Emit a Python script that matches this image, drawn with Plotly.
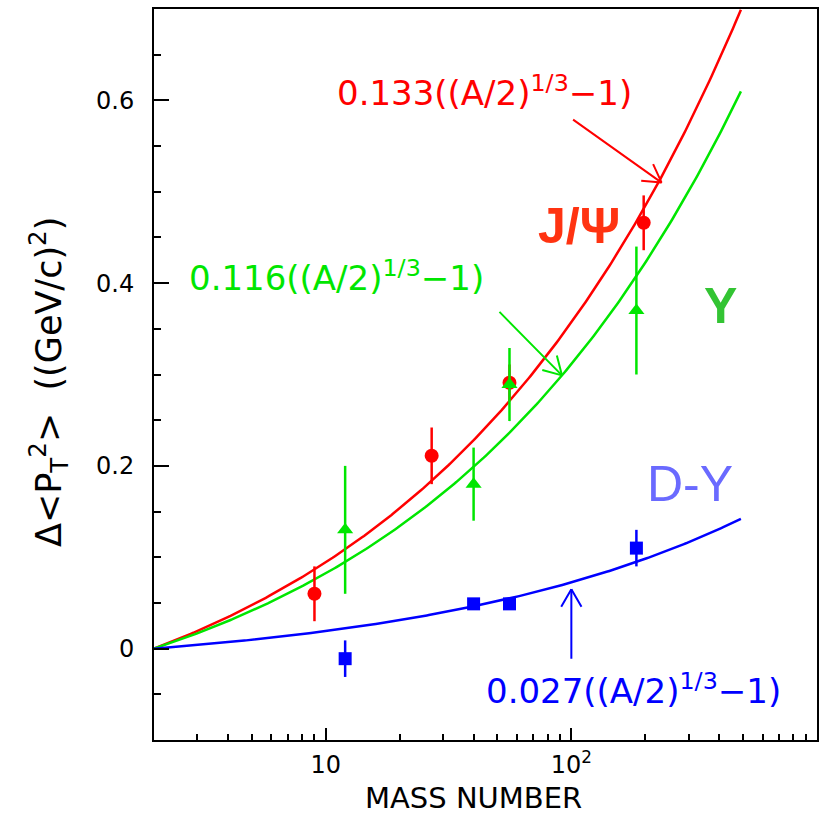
import numpy as np
import plotly.graph_objects as go

# Nuclear mass numbers of the targets
A_jpsi = [9, 27, 56, 197]
A_ups = [12, 40, 56, 184]
A_dy = [12, 40, 56, 184]

# Broadening of <pT^2> relative to deuterium, (GeV/c)^2
dpt_jpsi = [0.060, 0.211, 0.291, 0.466]
err_jpsi = [0.030, 0.031, 0.020, 0.030]
dpt_ups = [0.130, 0.180, 0.289, 0.370]
err_ups = [0.070, 0.040, 0.040, 0.070]
dpt_dy = [-0.011, 0.049, 0.049, 0.110]
err_dy = [0.020, 0.005, 0.005, 0.020]

# Fit coefficients of  c((A/2)^(1/3) - 1)
c_jpsi = 0.133
c_ups = 0.116
c_dy = 0.027

RED = "#ff0000"
GREEN = "#00e600"
BLUE = "#0000ff"
FONT = "DejaVu Sans"

A_fit = np.logspace(np.log10(2), np.log10(490), 300)


def fit(c):
    return c * ((A_fit / 2.0) ** (1.0 / 3.0) - 1.0)


fig = go.Figure()

for c, col in [(c_jpsi, RED), (c_ups, GREEN), (c_dy, BLUE)]:
    fig.add_trace(go.Scatter(x=A_fit, y=fit(c), mode="lines",
                             line=dict(color=col, width=2.5),
                             showlegend=False, hoverinfo="skip"))

for xs, ys, es, col, sym, size in [
    (A_jpsi, dpt_jpsi, err_jpsi, RED, "circle", 14),
    (A_ups, dpt_ups, err_ups, GREEN, "triangle-up", 14),
    (A_dy, dpt_dy, err_dy, BLUE, "square", 13),
]:
    fig.add_trace(go.Scatter(
        x=xs, y=ys, mode="markers",
        marker=dict(symbol=sym, size=size, color=col, line=dict(width=0)),
        error_y=dict(type="data", array=es, visible=True, color=col,
                     thickness=2.5, width=0),
        showlegend=False))

annotations = []


def arrow(a_tip, y_tip, tail_dx, tail_dy, col):
    """Straight arrow with an open V head; tail offset in pixels."""
    xt = np.log10(a_tip)
    ang = np.arctan2(tail_dy, tail_dx)
    annotations.append(dict(x=xt, y=y_tip, xref="x", yref="y", text="",
                            showarrow=True, arrowhead=0, arrowwidth=2,
                            arrowcolor=col, ax=tail_dx, ay=tail_dy,
                            axref="pixel", ayref="pixel"))
    for s in (-1, 1):
        a = ang + s * np.radians(30)
        annotations.append(dict(x=xt, y=y_tip, xref="x", yref="y", text="",
                                showarrow=True, arrowhead=0, arrowwidth=2,
                                arrowcolor=col, ax=22 * np.cos(a),
                                ay=22 * np.sin(a)))


def label(a, y, text, col, size, family=FONT, weight="normal"):
    annotations.append(dict(x=np.log10(a), y=y, xref="x", yref="y",
                            text=text, showarrow=False,
                            xanchor="center", yanchor="middle",
                            font=dict(family=family, size=size, color=col,
                                      weight=weight)))


fit_txt = "{:.3f}((A/2)<sup>1/3</sup>\u22121)"
label(44.4, 0.610, fit_txt.format(c_jpsi), RED, 34)
label(11.1, 0.408, fit_txt.format(c_ups), GREEN, 34)
label(179, -0.044, fit_txt.format(c_dy), BLUE, 34)

arrow(233, 0.510, -90, -64, RED)
arrow(91.6, 0.299, -64, -65, GREEN)
arrow(100, 0.065, 0, 71, BLUE)

label(107, 0.463, "J/\u03a8", "#ff3311", 50, "Liberation Sans", "bold")
label(406, 0.3745, "\u03a5", "#33c433", 50, "Liberation Sans", "bold")
label(305, 0.18, "D-Y", "#6a6aff", 50, "Liberation Sans")

# Axis titles
annotations.append(dict(
    x=-0.158, y=0.49, xref="paper", yref="paper", showarrow=False,
    text="\u0394&lt;P<sub>T</sub><sup>2</sup>&gt;  ((GeV/c)<sup>2</sup>)",
    textangle=-90, xanchor="center", yanchor="middle",
    font=dict(family=FONT, size=35, color="black")))
annotations.append(dict(
    x=0.482, y=-0.0793, xref="paper", yref="paper", showarrow=False,
    text="MASS NUMBER", xanchor="center", yanchor="middle",
    font=dict(family=FONT, size=29, color="black")))

x_minor = [3, 4, 5, 6, 7, 8, 9, 20, 30, 40, 50, 60, 70, 80, 90,
           200, 300, 400, 500, 600, 700, 800, 900]
y_minor = [-0.05, 0.05, 0.1, 0.15, 0.25, 0.3, 0.35, 0.45, 0.5, 0.55, 0.65]

fig.update_layout(
    width=821, height=817,
    margin=dict(l=154, r=2, t=9, b=77),
    paper_bgcolor="white", plot_bgcolor="white",
    annotations=annotations,
    xaxis=dict(
        type="log", range=[np.log10(2), 3],
        tickmode="array", tickvals=[10, 100],
        ticktext=["10", "10<sup>2</sup>"],
        ticks="inside", ticklen=12, tickwidth=2, tickcolor="black",
        minor=dict(tickmode="array", tickvals=x_minor, ticks="inside",
                   ticklen=6, tickwidth=2, tickcolor="black", showgrid=False),
        showline=True, linewidth=2, linecolor="black", mirror=True,
        showgrid=False, zeroline=False, ticklabelstandoff=2,
        tickfont=dict(family=FONT, size=24, color="black"),
    ),
    yaxis=dict(
        range=[-0.1, 0.7],
        tickmode="array", tickvals=[0, 0.2, 0.4, 0.6],
        ticktext=["0", "0.2", "0.4", "0.6"],
        ticks="inside", ticklen=15, tickwidth=2, tickcolor="black",
        minor=dict(tickmode="array", tickvals=y_minor, ticks="inside",
                   ticklen=7, tickwidth=2, tickcolor="black", showgrid=False),
        showline=True, linewidth=2, linecolor="black", mirror=True,
        showgrid=False, zeroline=False, ticklabelstandoff=13,
        tickfont=dict(family=FONT, size=24, color="black"),
    ),
)

fig.write_html("out.html")
